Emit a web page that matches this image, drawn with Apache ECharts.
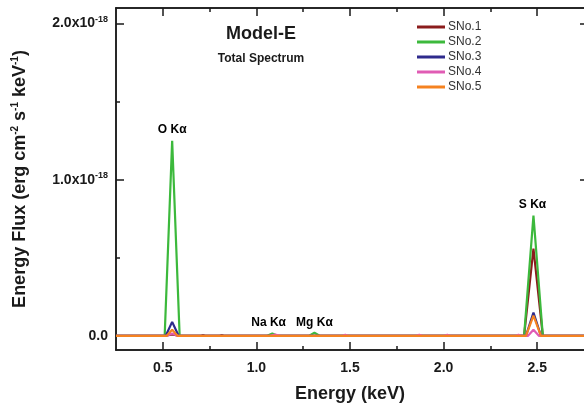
<!DOCTYPE html>
<html>
<head>
<meta charset="utf-8">
<script src="https://cdn.jsdelivr.net/npm/echarts@6/dist/echarts.min.js"></script>
<style>
  html, body { margin: 0; padding: 0; background: #fff; }
  #chart { width: 584px; height: 408px; }
</style>
</head>
<body>
<div id="chart"></div>
<script>
// flux values are in units of 1e-18 erg cm^-2 s^-1 keV^-1
const seriesNames = ["SNo.1", "SNo.2", "SNo.3", "SNo.4", "SNo.5"];
const seriesColors = ["#8b1c1c", "#3cb93c", "#2e2a8c", "#e05cb4", "#f58220"];

const sno1 = [[0.25, 0], [0.51, 0], [0.55, 0.01], [0.59, 0], [0.7, 0], [0.715, 0.006], [0.73, 0],
  [0.8, 0], [0.815, 0.006], [0.83, 0], [2.43, 0], [2.48, 0.56], [2.53, 0], [2.75, 0]];
const sno2 = [[0.25, 0], [0.51, 0], [0.55, 1.25], [0.59, 0], [1.055, 0], [1.085, 0.016], [1.115, 0],
  [1.28, 0], [1.31, 0.02], [1.34, 0], [2.43, 0], [2.48, 0.77], [2.53, 0], [2.75, 0]];
const sno3 = [[0.25, 0], [0.515, 0], [0.55, 0.09], [0.585, 0], [2.44, 0], [2.48, 0.15], [2.52, 0], [2.75, 0]];
const sno4 = [[0.25, 0], [0.52, 0], [0.55, 0.015], [0.58, 0], [1.07, 0], [1.1, 0.008], [1.13, 0],
  [1.46, 0], [1.475, 0.008], [1.49, 0], [1.85, 0], [1.87, 0.008], [1.89, 0], [2.0, 0], [2.02, 0.008],
  [2.04, 0], [2.385, 0], [2.4, 0.008], [2.415, 0], [2.45, 0], [2.48, 0.04], [2.51, 0], [2.75, 0]];
const sno5 = [[0.25, 0], [0.52, 0], [0.55, 0.04], [0.58, 0], [2.44, 0], [2.48, 0.13], [2.52, 0], [2.75, 0]];
const seriesData = [sno1, sno2, sno3, sno4, sno5];

const xMajorTicks = [0.5, 1.0, 1.5, 2.0, 2.5];
const xMinorTicks = [0.75, 1.25, 1.75, 2.25];
const yMajorTicks = [0, 1, 2];
const yMinorTicks = [0.5, 1.5];

const annotations = [
  { text: "O Kα", value: [0.55, 1.25] },
  { text: "Na Kα", value: [1.065, 0.012] },
  { text: "Mg Kα", value: [1.31, 0.016] },
  { text: "S Kα", value: [2.475, 0.77] }
];

const font = "Liberation Sans, Arial, sans-serif";
const xRange = { min: 0.25, max: 2.75 };
const yRange = { min: -0.09, max: 2.1 };

function xAxisCfg(pos, ticks, len, main) {
  return {
    type: "value", position: pos, min: xRange.min, max: xRange.max,
    name: main ? "Energy (keV)" : "",
    nameLocation: "middle", nameGap: 35,
    nameTextStyle: { fontFamily: font, fontWeight: "bold", fontSize: 18, color: "#1a1a1a" },
    axisLine: { show: true, onZero: false, lineStyle: { color: "#1a1a1a", width: 1.5 } },
    axisTick: { show: true, inside: true, length: len, customValues: ticks, lineStyle: { color: "#1a1a1a", width: 1.5 } },
    axisLabel: {
      show: main, customValues: ticks, margin: 11,
      fontFamily: font, fontWeight: "bold", fontSize: 14, color: "#1a1a1a",
      formatter: v => v.toFixed(1)
    },
    splitLine: { show: false }
  };
}

function yAxisCfg(pos, ticks, len, main) {
  return {
    type: "value", position: pos, min: yRange.min, max: yRange.max,
    offset: pos === "right" ? 4 : 0,
    name: main ? "{t|Energy Flux (erg cm}{s|-2}{t| s}{s|-1}{t| keV}{s|-1}{t|)}" : "",
    nameLocation: "middle", nameGap: 86, nameRotate: 90,
    nameTextStyle: {
      rich: {
        t: { fontFamily: font, fontWeight: "bold", fontSize: 18, color: "#1a1a1a" },
        s: { fontFamily: font, fontWeight: "bold", fontSize: 10, color: "#1a1a1a", verticalAlign: "top", padding: [0, 0, 10, 0] }
      }
    },
    axisLine: { show: true, onZero: false, lineStyle: { color: "#1a1a1a", width: 1.5 } },
    axisTick: { show: true, inside: true, length: len, customValues: ticks, lineStyle: { color: "#1a1a1a", width: 1.5 } },
    axisLabel: {
      show: main, customValues: ticks, margin: 8,
      formatter: v => v === 0 ? "{a|0.0}" : "{a|" + v.toFixed(1) + "x10}{b|-18}",
      rich: {
        a: { fontFamily: font, fontWeight: "bold", fontSize: 14, color: "#1a1a1a" },
        b: { fontFamily: font, fontWeight: "bold", fontSize: 9, color: "#1a1a1a", verticalAlign: "top", padding: [0, 0, 8, 0] }
      }
    },
    splitLine: { show: false }
  };
}

const chart = echarts.init(document.getElementById("chart"));

const lineSeries = seriesNames.map((name, i) => ({
  name: name,
  type: "line",
  data: seriesData[i],
  showSymbol: false,
  symbol: "none",
  color: seriesColors[i],
  lineStyle: { width: 2.2, color: seriesColors[i] },
  z: 2 + i
}));

const option = {
  animation: false,
  backgroundColor: "#ffffff",
  title: {
    text: "Model-E",
    subtext: "Total Spectrum",
    left: 256, top: 20, textAlign: "center", itemGap: 10,
    textStyle: { fontFamily: font, fontWeight: "bold", fontSize: 18, color: "#1a1a1a" },
    subtextStyle: { fontFamily: font, fontWeight: "bold", fontSize: 12, color: "#1a1a1a" }
  },
  legend: {
    orient: "vertical", left: 412, top: 15,
    itemWidth: 28, itemHeight: 3, itemGap: 1,
    icon: "rect",
    textStyle: { fontFamily: font, fontSize: 12, color: "#333", padding: [0, 0, 0, -2], lineHeight: 14 },
    data: seriesNames
  },
  grid: { left: 116, top: 8, right: 0, bottom: 56 },
  xAxis: [
    xAxisCfg("bottom", xMajorTicks, 8, true),
    xAxisCfg("bottom", xMinorTicks, 4, false),
    xAxisCfg("top", xMajorTicks, 8, false),
    xAxisCfg("top", xMinorTicks, 4, false)
  ],
  yAxis: [
    yAxisCfg("left", yMajorTicks, 8, true),
    yAxisCfg("left", yMinorTicks, 4, false),
    yAxisCfg("right", yMajorTicks, 8, false),
    yAxisCfg("right", yMinorTicks, 4, false)
  ],
  series: lineSeries.concat([{
    name: "labels",
    type: "scatter",
    symbolSize: 0,
    silent: true,
    data: annotations.map(a => ({ value: a.value, name: a.text })),
    label: {
      show: true, position: "top", distance: 5, opacity: 1,
      formatter: p => p.name,
      fontFamily: font, fontWeight: "bold", fontSize: 12, color: "#000"
    },
    z: 10
  }])
};

chart.setOption(option);
</script>
</body>
</html>
